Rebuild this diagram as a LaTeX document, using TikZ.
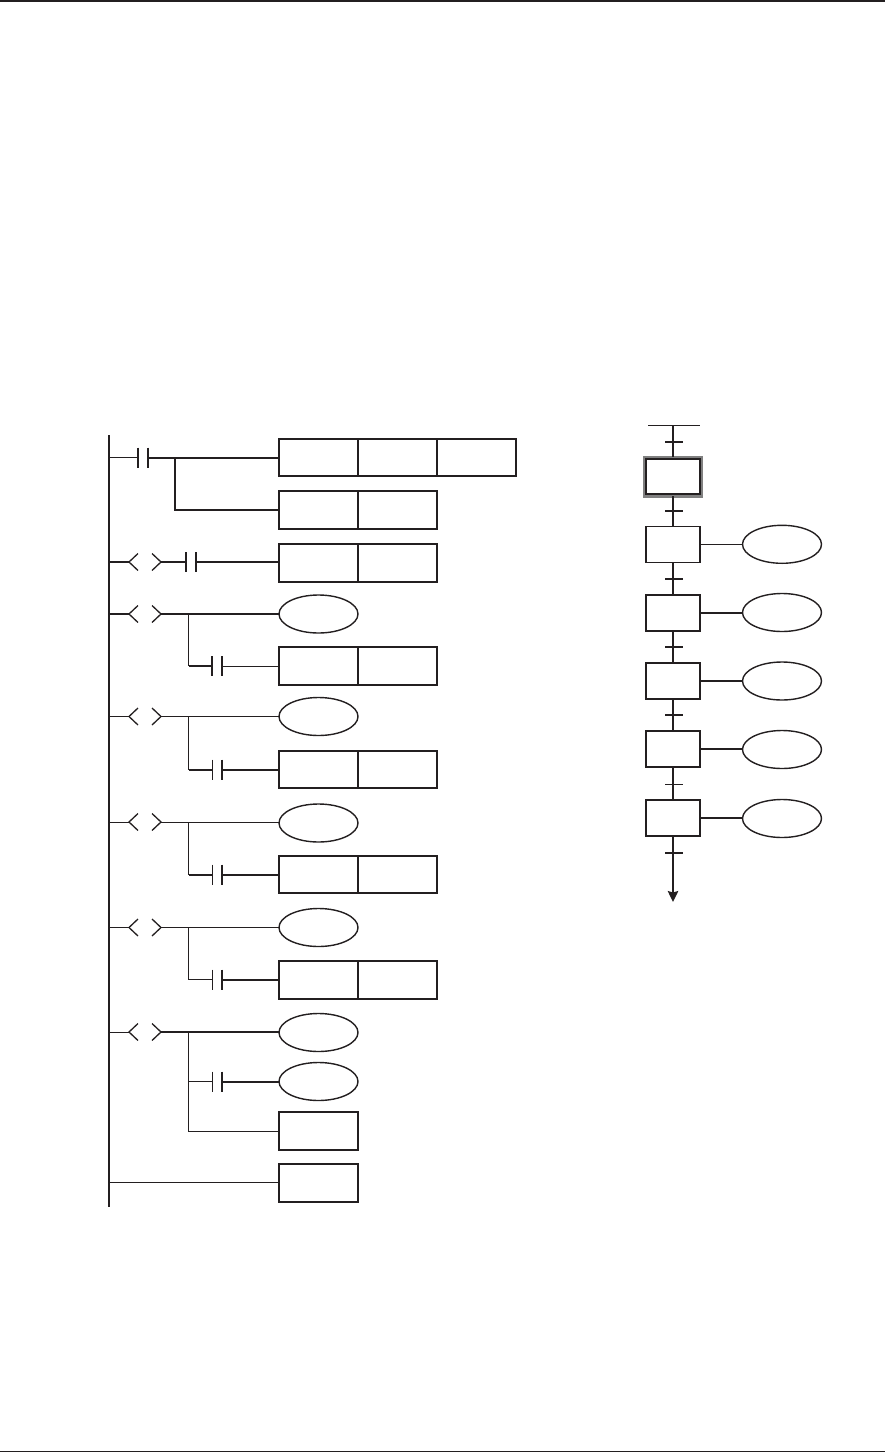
\documentclass[tikz,border=0pt]{standalone}
\usetikzlibrary{shapes.geometric,arrows.meta}
\definecolor{ink}{HTML}{231F20}
\newcommand{\contactsym}[5]{% name, x, y, left plate width, right plate width
  \coordinate (#1-l) at (#2,#3);
  \coordinate (#1-r) at ({#2+10},#3);
  \draw[ink,line width=#4] (#2,{#3-10}) -- (#2,{#3+10});
  \draw[ink,line width=#5] ({#2+10},{#3-10}) -- ({#2+10},{#3+10});
}
\newcommand{\notsym}[3]{% name, x, y
  \coordinate (#1-l) at (#2,#3);
  \coordinate (#1-r) at ({#2+32},#3);
  \draw[ink,line width=1.3pt] ({#2+9},{#3-8.5}) -- (#2,#3) -- ({#2+9},{#3+8.5});
  \draw[ink,line width=1.3pt] ({#2+23},{#3-8.5}) -- ({#2+32},#3) -- ({#2+23},{#3+8.5});
}
\newcommand{\ticksym}[3]{% name, y, width
  \coordinate (#1) at (673,#2);
  \draw[ink,line width=#3] (665,#2) -- (683,#2);
}
\tikzset{
  x=1pt,y=-1pt,
  thinw/.style={ink,line width=1pt},
  medw/.style={ink,line width=1.5pt},
  thickw/.style={ink,line width=2pt},
  cell/.style={draw=ink,line width=1.6pt,rectangle,minimum width=79pt,minimum height=37.5pt,inner sep=0pt,outer sep=0pt},
  coil/.style={draw=ink,line width=1.4pt,ellipse,minimum width=79pt,minimum height=38pt,inner sep=0pt,outer sep=0pt},
  stepbox/.style={draw=ink,line width=1.5pt,rectangle,minimum width=54pt,minimum height=36pt,inner sep=0pt,outer sep=0pt},
}
\begin{document}
\begin{tikzpicture}
\useasboundingbox (0,0) rectangle (885,1453);
\coordinate (pageTL) at (0,0.8); \coordinate (pageTR) at (885,0.8);
\coordinate (pageBL) at (0,1451.5); \coordinate (pageBR) at (885,1451.5);
\draw[ink,line width=1.6pt] (pageTL) -- (pageTR);
\draw[ink,line width=1.6pt] (pageBL) -- (pageBR);

% power rail
\coordinate (railT) at (109,435); \coordinate (railB) at (109,1207);
\draw[ink,line width=2pt] (railT) -- (railB);

% boxes and coils
\node[cell] (a1) at (318.5,457.5) {};
\node[cell] (a2) at (397.5,457.5) {};
\node[cell] (a3) at (476.5,457.5) {};
\node[cell,line width=1.9pt] (b1) at (318.5,510) {};
\node[cell,line width=1.9pt] (b2) at (397.5,510) {};
\node[cell] (c1) at (318.5,563) {};
\node[cell] (c2) at (397.5,563) {};
\node[coil] (d) at (318.5,614) {};
\node[cell] (e1) at (318.5,666) {};
\node[cell] (e2) at (397.5,666) {};
\node[coil] (f) at (318.5,716.5) {};
\node[cell] (g1) at (318.5,769.5) {};
\node[cell] (g2) at (397.5,769.5) {};
\node[coil] (h) at (318.5,823) {};
\node[cell] (i1) at (318.5,874.5) {};
\node[cell] (i2) at (397.5,874.5) {};
\node[coil] (j) at (318.5,927.5) {};
\node[cell] (k1) at (318.5,980) {};
\node[cell] (k2) at (397.5,980) {};
\node[coil] (l) at (318.5,1032.5) {};
\node[coil] (m) at (318.5,1081.5) {};
\node[cell] (n) at (318.5,1131) {};
\node[cell] (o) at (318.5,1183) {};

% rung 1
\contactsym{k1c}{138}{457.5}{1.5pt}{1.8pt}
\coordinate (r1rail) at (109,457.5);
\coordinate (r1j) at (175,457.5);
\coordinate (r1b) at (175,510);
\draw[thinw] (r1rail) -- (k1c-l);
\draw[thickw] (k1c-r) -- (a1.west);
\draw[thickw] (r1j) -- (r1b) -- (b1.west);

% rung 2
\notsym{n2}{129}{562}
\contactsym{k2c}{186}{562}{1.5pt}{1.8pt}
\coordinate (r2rail) at (109,562);
\draw[medw] (r2rail) -- (n2-l);
\draw[medw] (n2-r) -- (k2c-l);
\draw[thickw] (k2c-r) -- (c1.west |- k2c-r);

% rung 3
\notsym{n3}{129}{614}
\contactsym{k3c}{212}{666}{1.6pt}{1.6pt}
\coordinate (r3rail) at (109,614);
\coordinate (r3j) at (188.5,614);
\coordinate (r3b) at (188.5,666);
\draw[medw] (r3rail) -- (n3-l);
\draw[thickw] (n3-r) -- (d.west);
\draw[thinw] (r3j) -- (r3b);
\draw[thickw] (r3b) -- (k3c-l);
\draw[thinw] (k3c-r) -- (e1.west);

% rung 4
\notsym{n4}{129}{716.5}
\contactsym{k4c}{212}{769.5}{1pt}{1.8pt}
\coordinate (r4rail) at (109,716.5);
\coordinate (r4j) at (188.5,716.5);
\coordinate (r4b) at (188.5,769.5);
\draw[thinw] (r4rail) -- (n4-l);
\draw[thinw] (n4-r) -- (f.west);
\draw[thinw] (r4j) -- (r4b);
\draw[thickw] (r4b) -- (k4c-l);
\draw[thickw] (k4c-r) -- (g1.west);

% rung 5
\notsym{n5}{129}{822}
\contactsym{k5c}{212}{874.5}{1pt}{1.8pt}
\coordinate (r5rail) at (109,822);
\coordinate (r5j) at (188.5,822);
\coordinate (r5b) at (188.5,874.5);
\draw[thinw] (r5rail) -- (n5-l);
\draw[thinw] (n5-r) -- (h.west |- n5-r);
\draw[thinw] (r5j) -- (r5b);
\draw[thickw] (r5b) -- (k5c-l);
\draw[thickw] (k5c-r) -- (i1.west);

% rung 6
\notsym{n6}{129}{927.5}
\contactsym{k6c}{212}{979.5}{1pt}{1.8pt}
\coordinate (r6rail) at (109,927.5);
\coordinate (r6j) at (188.5,927.5);
\coordinate (r6b) at (188.5,979.5);
\draw[thinw] (r6rail) -- (n6-l);
\draw[thinw] (n6-r) -- (j.west);
\draw[thinw] (r6j) -- (r6b);
\draw[thinw] (r6b) -- (k6c-l);
\draw[thickw] (k6c-r) -- (k1.west |- k6c-r);

% rung 7
\notsym{n7}{129}{1032}
\contactsym{k7c}{212}{1081.5}{1pt}{1.8pt}
\coordinate (r7rail) at (109,1032);
\coordinate (r7j) at (188.5,1032);
\coordinate (r7b) at (188.5,1081.5);
\coordinate (r7c) at (188.5,1131);
\draw[thinw] (r7rail) -- (n7-l);
\draw[thickw] (n7-r) -- (l.west |- n7-r);
\draw[thinw] (r7j) -- (r7c) -- (n.west);
\draw[medw] (r7b) -- (k7c-l);
\draw[thickw] (k7c-r) -- (m.west);

% last rung
\coordinate (r8rail) at (109,1182.5);
\draw[thinw] (r8rail) -- (o.west |- r8rail);

% ---- SFC chart ----
\coordinate (sTopL) at (648,425.3); \coordinate (sTopR) at (700,425.3);
\coordinate (sTop) at (673,425.3);
\draw[thinw] (sTopL) -- (sTopR);

\node[draw=black!50,line width=3.2pt,rectangle,minimum width=57pt,minimum height=39pt,inner sep=0pt,outer sep=0pt] (s0o) at (673,476.8) {};
\node[stepbox,line width=1.8pt,minimum height=35pt] (s0) at (673,476.8) {};
\node[stepbox] (s1) at (673,544.3) {};
\node[stepbox] (s2) at (673,613) {};
\node[stepbox,line width=1.9pt] (s3) at (673,681) {};
\node[stepbox] (s4) at (673,749) {};
\node[stepbox] (s5) at (673,818) {};

\node[coil] (t1) at (782,544.3) {};
\node[coil] (t2) at (782,612.5) {};
\node[coil] (t3) at (782,681) {};
\node[coil] (t4) at (782,749.5) {};
\node[coil] (t5) at (782,818.5) {};

\draw[thinw] (s1.east) -- (t1.west);
\draw[thickw] (s2.east) -- (t2.west |- s2.east);
\draw[medw] (s3.east) -- (t3.west);
\draw[medw] (s4.east) -- (t4.west |- s4.east);
\draw[medw] (s5.east) -- (t5.west |- s5.east);

\ticksym{q0}{441.7}{1.7pt}
\ticksym{q1}{511}{1.7pt}
\ticksym{q2}{579}{1.7pt}
\ticksym{q3}{647}{1.7pt}
\ticksym{q4}{715}{1.7pt}
\ticksym{q5}{784}{1pt}
\ticksym{q6}{853}{1.7pt}
\coordinate (sEnd) at (673,902);

\draw[thickw] (sTop) -- (s0o.north);
\draw[thickw] (s0o.south) -- (s1.north);
\draw[thickw] (s1.south) -- (s2.north);
\draw[thickw] (s2.south) -- (s3.north);
\draw[thickw] (s3.south) -- (s4.north);
\draw[thickw] (s4.south) -- (s5.north);
\draw[ink,line width=1.6pt,-{Stealth[length=11pt,width=10.5pt,inset=1.5pt]}] (s5.south) -- (sEnd);
\end{tikzpicture}
\end{document}
